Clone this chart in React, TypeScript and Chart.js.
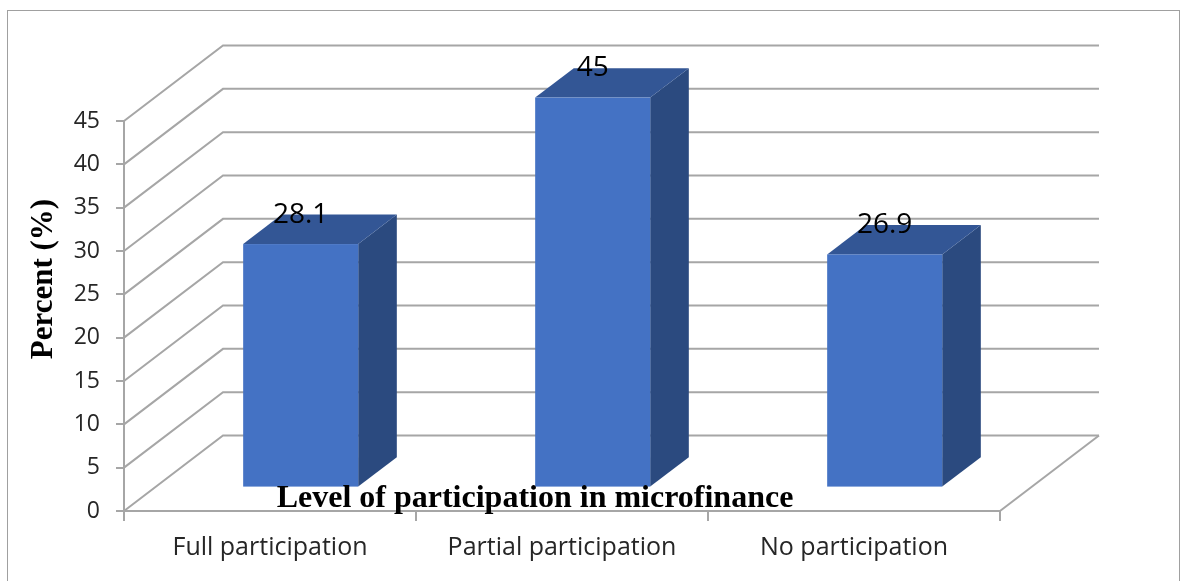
import React, { useEffect, useRef } from "react";
import { Chart, registerables } from "chart.js";

Chart.register(...registerables);

const categories = ["Full participation", "Partial participation", "No participation"];
const percentValues = [28.1, 45, 26.9];
const yTicks = [0, 5, 10, 15, 20, 25, 30, 35, 40, 45];
const yAxisTitle = "Percent (%)";
const xAxisTitle = "Level of participation in microfinance";

const DX = 99;
const DY = -75.5;
const FRONT_F = 0.31;
const DEPTH_F = 0.39;
const GRID = "#a6a6a6";

const threeD = {
  id: "threeD",
  beforeDatasetsDraw(chart: any) {
    const { ctx, chartArea, scales } = chart;
    const y = scales.y;
    ctx.save();
    ctx.strokeStyle = GRID;
    ctx.lineWidth = 2;
    for (const v of yTicks) {
      const py = y.getPixelForValue(v);
      ctx.beginPath();
      ctx.moveTo(chartArea.left, py);
      ctx.lineTo(chartArea.left + DX, py + DY);
      ctx.lineTo(chartArea.right + DX, py + DY);
      ctx.stroke();
    }
    const p0 = y.getPixelForValue(0);
    ctx.beginPath();
    ctx.moveTo(chartArea.right, p0);
    ctx.lineTo(chartArea.right + DX, p0 + DY);
    ctx.stroke();
    ctx.restore();
  },
  afterDatasetsDraw(chart: any) {
    const { ctx } = chart;
    const meta = chart.getDatasetMeta(0);
    const fx = FRONT_F * DX;
    const fy = FRONT_F * DY;
    const ddx = DEPTH_F * DX;
    const ddy = DEPTH_F * DY;
    ctx.save();
    meta.data.forEach((bar: any, i: number) => {
      const { x, y, base, width } = bar.getProps(["x", "y", "base", "width"], true);
      const l = x - width / 2 + fx;
      const r = x + width / 2 + fx;
      const t = y + fy;
      const b = base + fy;
      ctx.fillStyle = "#2b4a7f";
      ctx.beginPath();
      ctx.moveTo(r, t);
      ctx.lineTo(r + ddx, t + ddy);
      ctx.lineTo(r + ddx, b + ddy);
      ctx.lineTo(r, b);
      ctx.closePath();
      ctx.fill();
      ctx.fillStyle = "#335695";
      ctx.beginPath();
      ctx.moveTo(l, t);
      ctx.lineTo(l + ddx, t + ddy);
      ctx.lineTo(r + ddx, t + ddy);
      ctx.lineTo(r, t);
      ctx.closePath();
      ctx.fill();
      ctx.fillStyle = "#4472c4";
      ctx.fillRect(l, t, r - l, b - t);
      ctx.fillStyle = "#000000";
      ctx.font = "28px 'Open Sans'";
      ctx.textAlign = "center";
      ctx.textBaseline = "middle";
      ctx.fillText(String(percentValues[i]), x + fx, t + ddy);
    });
    ctx.font = "bold 32px 'Liberation Serif'";
    ctx.fillStyle = "#000000";
    ctx.textAlign = "center";
    ctx.textBaseline = "alphabetic";
    ctx.fillText(xAxisTitle, 535, 507);
    ctx.save();
    ctx.translate(52, 279);
    ctx.rotate(-Math.PI / 2);
    ctx.font = "bold 31px 'Liberation Serif'";
    ctx.fillText(yAxisTitle, 0, 0);
    ctx.restore();
    ctx.strokeStyle = "#a0a0a0";
    ctx.lineWidth = 1;
    ctx.strokeRect(7.5, 10.5, 1172, 600);
    ctx.restore();
  },
};

export default function App() {
  const ref = useRef<HTMLCanvasElement>(null);
  useEffect(() => {
    const c = new Chart(ref.current!, {
      type: "bar",
      data: {
        labels: categories,
        datasets: [
          {
            data: percentValues,
            backgroundColor: "rgba(0,0,0,0)",
            borderWidth: 0,
            categoryPercentage: 1,
            barPercentage: 0.394,
          },
        ],
      },
      options: {
        responsive: false,
        animation: false,
        layout: { padding: { left: 0, top: 121, right: 184, bottom: 0 } },
        plugins: { legend: { display: false }, tooltip: { enabled: false } },
        scales: {
          x: {
            offset: true,
            grid: { display: true, drawOnChartArea: false, offset: true, tickLength: 10, color: GRID, lineWidth: 2 },
            border: { display: true, color: GRID, width: 2 },
            ticks: { color: "#262626", font: { family: "'Open Sans'", size: 25 }, padding: 12, maxRotation: 0 },
            afterFit: (s: any) => {
              s.height = 70;
            },
          },
          y: {
            min: 0,
            max: 45,
            afterBuildTicks: (s: any) => {
              s.ticks = yTicks.map((v) => ({ value: v }));
            },
            grid: { display: true, drawOnChartArea: false, tickLength: 8, color: GRID, lineWidth: 2 },
            border: { display: true, color: GRID, width: 2 },
            ticks: { color: "#262626", font: { family: "'Open Sans'", size: 23 }, padding: 16 },
            afterFit: (s: any) => {
              s.width = 124;
            },
          },
        },
      },
      plugins: [threeD],
    });
    return () => c.destroy();
  }, []);
  return (
    <div style={{ position: "absolute", left: 0, top: 0, width: 1184, height: 581, background: "#fff" }}>
      <canvas ref={ref} width={1184} height={581} />
    </div>
  );
}
